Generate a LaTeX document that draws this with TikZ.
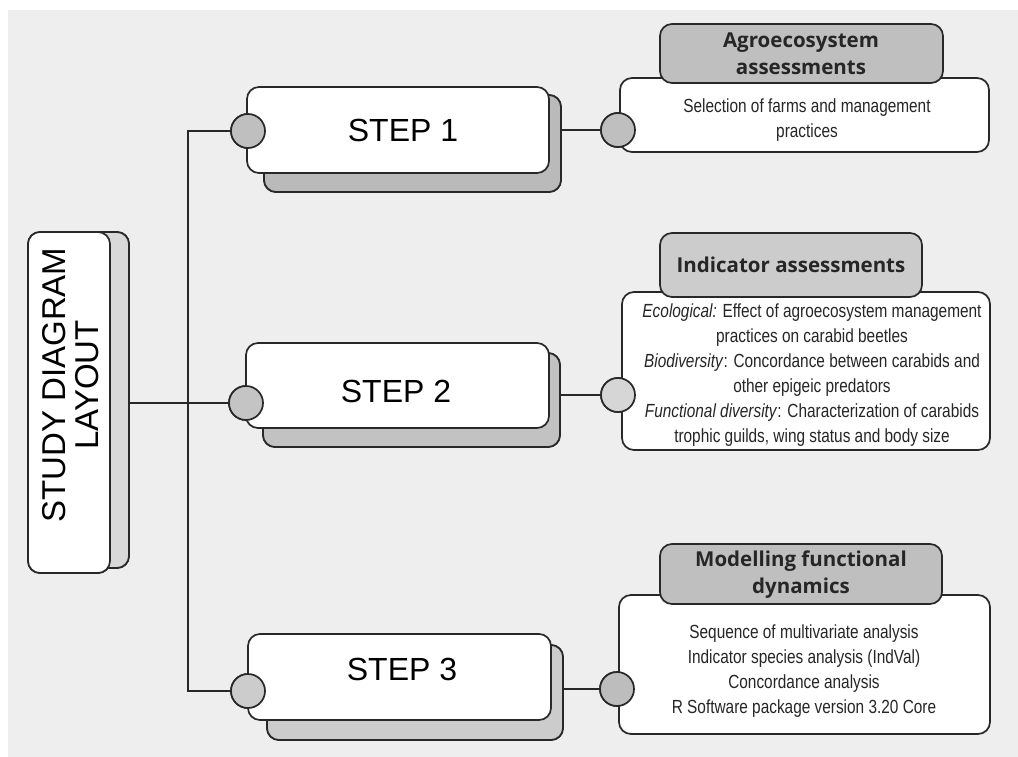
\documentclass[tikz,border=0pt]{standalone}
\usepackage{fontspec}
\setmainfont{Liberation Sans}
\newfontfamily\bodyfont{Liberation Sans}[FakeStretch=0.81]
\newfontfamily\headfont{Open Sans}
\definecolor{bgc}{RGB}{238,238,238}
\definecolor{linec}{RGB}{40,40,40}
\tikzset{
  conn/.style={draw=linec, line width=1.7pt},
  rbox/.style={draw=linec, line width=1.7pt, rounded corners=12pt, inner sep=0pt, outer sep=0pt},
  knob/.style={circle, draw=linec, line width=1.7pt, minimum size=34pt, inner sep=0pt, outer sep=0pt},
  steptext/.style={font=\fontsize{32}{36}\selectfont, inner sep=0pt},
  headtext/.style={font=\headfont\bfseries\fontsize{20.5}{27}\selectfont, align=center, inner sep=0pt, text=black!85},
  bodytext/.style={font=\bodyfont\fontsize{19}{25}\selectfont, align=center, inner sep=0pt, text=black!85},
}
\begin{document}
\begin{tikzpicture}[x=1pt,y=-1pt]
\useasboundingbox (0,0) rectangle (1018,757);
\fill[bgc] (8,10) rectangle (1018,757);

% connector coordinates
\coordinate (bus1) at (188,131);
\coordinate (bus3) at (188,691);

% study box
\node[rbox, fill=black!15, minimum width=81pt, minimum height=336pt] (sdyb) at (88.5,400) {};
\node[rbox, fill=white, minimum width=82pt, minimum height=341pt] (sdy) at (69,402.5) {};
\node[font=\fontsize{33}{33}\selectfont, rotate=90, align=center, inner sep=0pt] (sdyt) at (71,385) {STUDY DIAGRAM\\LAYOUT};

% step shadows
\node[rbox, fill=black!27, minimum width=297pt, minimum height=97pt] (s1b) at (412.5,143.5) {};
\node[rbox, fill=black!24, minimum width=297pt, minimum height=94pt] (s2b) at (411.5,400) {};
\node[rbox, fill=black!20, minimum width=296pt, minimum height=95pt] (s3b) at (415,692.5) {};

% circles (defined before lines for names)
\node[knob, fill=black!25] (c1) at (248,131) {};
\node[knob, fill=black!23] (c2) at (246,403) {};
\node[knob, fill=black!20] (c3) at (248,691) {};
\node[knob, fill=black!25] (r1c) at (618,130) {};
\node[knob, fill=black!16] (r2c) at (618,395) {};
\node[knob, fill=black!26] (r3c) at (617,689) {};

% connectors
\draw[conn] (c1.west) -- (bus1) -- (bus3) -- (c3.west);
\draw[conn] (sdyb.east |- c2.west) -- (c2.west);
\draw[conn] (s1b.east |- r1c.west) -- (r1c.west);
\draw[conn] (s2b.east |- r2c.west) -- (r2c.west);
\draw[conn] (s3b.east |- r3c.west) -- (r3c.west);

% redraw study boxes over the connector start
\node[rbox, fill=black!15, minimum width=81pt, minimum height=336pt] at (sdyb) {};
\node[rbox, fill=white, minimum width=82pt, minimum height=341pt] at (sdy) {};
\node[font=\fontsize{33}{33}\selectfont, rotate=90, align=center, inner sep=0pt] at (sdyt) {STUDY DIAGRAM\\LAYOUT};

% step shadows again over connector ends
\node[rbox, fill=black!27, minimum width=297pt, minimum height=97pt] at (s1b) {};
\node[rbox, fill=black!24, minimum width=297pt, minimum height=94pt] at (s2b) {};
\node[rbox, fill=black!20, minimum width=296pt, minimum height=95pt] at (s3b) {};

% step fronts
\node[rbox, fill=white, minimum width=302pt, minimum height=86pt] (s1) at (398,130) {};
\node[rbox, fill=white, minimum width=303pt, minimum height=85pt] (s2) at (397.5,385.5) {};
\node[rbox, fill=white, minimum width=303pt, minimum height=86pt] (s3) at (399.5,677) {};

% right bodies and headers
\node[rbox, fill=white, minimum width=369pt, minimum height=74pt] (r1) at (804.5,115) {};
\node[rbox, fill=black!25, minimum width=283pt, minimum height=59pt] (h1) at (801.5,53.5) {};
\node[rbox, fill=white, minimum width=368pt, minimum height=158pt] (r2) at (806,371) {};
\node[rbox, fill=black!20, minimum width=262pt, minimum height=64pt] (h2) at (791,265) {};
\node[rbox, fill=white, minimum width=371pt, minimum height=139pt] (r3) at (804.5,664.5) {};
\node[rbox, fill=black!25, minimum width=282pt, minimum height=60pt] (h3) at (801,574) {};

% circles on top
\node[knob, fill=black!25] at (c1) {};
\node[knob, fill=black!23] at (c2) {};
\node[knob, fill=black!20] at (c3) {};
\node[knob, fill=black!25] at (r1c) {};
\node[knob, fill=black!16] at (r2c) {};
\node[knob, fill=black!26] at (r3c) {};

% texts
\node[steptext] (t1) at (403,130) {STEP 1};
\node[steptext] (t2) at (396,391) {STEP 2};
\node[steptext] (t3) at (402,669) {STEP 3};

\node[headtext] (ht1) at (801,54) {Agroecosystem\\assessments};
\node[headtext] (ht2) at (791,265) {Indicator assessments};
\node[headtext] (ht3) at (801,575) {Modelling functional\\dynamics};

\node[bodytext] (bt1) at (807,120) {Selection of farms and management\\practices};
\node[bodytext] (bt2) at (812,375) {\textit{Ecological:} Effect of agroecosystem management\\practices on carabid beetles\\\textit{Biodiversity}: Concordance between carabids and\\other epigeic predators\\\textit{Functional diversity}: Characterization of carabids\\trophic guilds, wing status and body size};
\node[bodytext] (bt3) at (804,671) {Sequence of multivariate analysis\\Indicator species analysis (IndVal)\\Concordance analysis\\R Software package version 3.20 Core};
\end{tikzpicture}
\end{document}
